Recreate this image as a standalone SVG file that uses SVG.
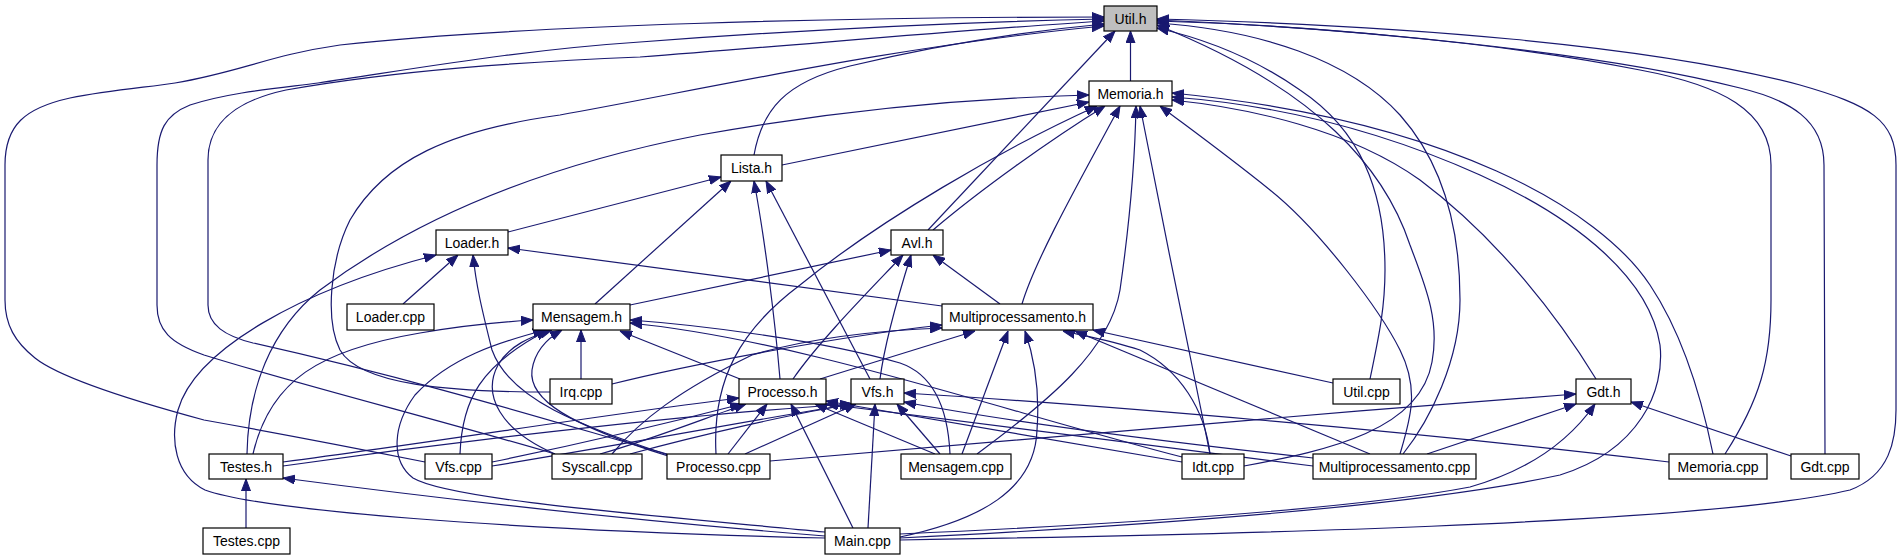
<svg xmlns="http://www.w3.org/2000/svg" width="1904" height="560" viewBox="0 0 1904 560">
<defs>
<style>
.e{fill:none;stroke:#191970;stroke-width:1.2;marker-end:url(#ah)}
.n rect{fill:#fff;stroke:#000;stroke-width:1.2}
.n.root rect{fill:#bfbfbf}
.n text{font-family:"Liberation Sans",Arial,Helvetica,sans-serif;font-size:14px;text-anchor:middle;fill:#000}
</style>
<marker id="ah" viewBox="0 0 12 10" refX="12" refY="5" markerWidth="12" markerHeight="10" markerUnits="userSpaceOnUse" orient="auto">
<path d="M0,0.5 L12,5 L0,9.5 z" fill="#191970" stroke="#191970" stroke-width="1"/>
</marker>
</defs>
<rect width="1904" height="560" fill="#fff"/>
<g id="edges">
<path class="e" d="M1130.5,81 L1130.5,31"/>
<path class="e" d="M928,230 L1115,31"/>
<path class="e" d="M754,155 C762,110 785,82 850,66 C950,42 1040,30 1104,24"/>
<path class="e" d="M550,392 C450,392 360,385 340,350 C325,320 330,260 350,220 C385,160 450,130 560,115 C700,90 900,45 1104,26"/>
<path class="e" d="M425,462 C340,445 260,430 204,420 C130,400 60,378 35,358 C15,342 5,325 5,300 L5,165 C5,125 25,108 70,98 C110,90 150,87 175,83 C240,72 270,55 340,45 C520,25 850,17 1104,17"/>
<path class="e" d="M555,454 C440,420 300,385 204,355 C170,343 157,330 157,305 L157,165 C157,130 165,115 190,105 C230,92 280,88 318,83 C420,68 520,50 640,42 C800,30 960,22 1104,19"/>
<path class="e" d="M667,454 C580,430 440,385 253,343 C225,336 208,325 208,305 L208,160 C208,120 240,100 286,90 C400,70 520,62 640,57 C800,45 960,30 1104,21"/>
<path class="e" d="M1370,379 C1378,340 1385,310 1385,270 C1385,190 1360,130 1300,90 C1260,62 1210,40 1157,28"/>
<path class="e" d="M1244,466 C1330,450 1420,430 1432,362 C1440,320 1425,285 1410,245 C1385,170 1320,90 1157,25"/>
<path class="e" d="M1403,454 C1430,420 1460,360 1460,300 C1460,220 1440,160 1400,115 C1350,60 1260,30 1157,23"/>
<path class="e" d="M1725,454 C1760,400 1771,360 1771,300 L1771,165 C1771,110 1720,85 1640,70 C1500,42 1300,25 1157,21"/>
<path class="e" d="M1825,454 L1824,165 C1824,120 1790,100 1740,88 C1600,52 1350,28 1157,20"/>
<path class="e" d="M900,540 C1200,535 1700,525 1850,490 C1890,475 1896,440 1896,410 L1896,165 C1896,120 1870,105 1800,85 C1650,45 1400,25 1157,19"/>
<path class="e" d="M782,165 L1089,102"/>
<path class="e" d="M247,454 C248,390 270,330 320,290 C400,230 520,170 700,135 C850,108 980,98 1089,95"/>
<path class="e" d="M716,454 C712,380 740,330 800,285 C880,220 1000,150 1097,106"/>
<path class="e" d="M933,230 C980,190 1050,140 1105,106"/>
<path class="e" d="M1022,304 C1035,260 1080,180 1120,106"/>
<path class="e" d="M977,454 C1050,400 1110,350 1120,290 C1130,220 1135,160 1136,106"/>
<path class="e" d="M1210,454 C1195,380 1160,210 1140,106"/>
<path class="e" d="M1400,454 C1410,420 1420,390 1400,350 C1380,310 1320,230 1270,190 C1220,150 1185,125 1160,106"/>
<path class="e" d="M1713,454 C1700,390 1680,330 1650,285 C1600,210 1450,120 1172,93"/>
<path class="e" d="M1596,379 C1560,320 1500,240 1420,180 C1350,130 1250,108 1172,100"/>
<path class="e" d="M900,538 C1100,528 1400,510 1560,475 C1640,450 1665,390 1660,345 C1650,280 1580,220 1480,175 C1380,130 1280,105 1172,97"/>
<path class="e" d="M508,232 L721,177"/>
<path class="e" d="M595,304 L731,181"/>
<path class="e" d="M780,379 C775,320 765,240 754,181"/>
<path class="e" d="M870,379 L766,181"/>
<path class="e" d="M630,305 L891,250"/>
<path class="e" d="M793,379 C820,340 870,290 903,255"/>
<path class="e" d="M880,379 C885,340 900,290 911,255"/>
<path class="e" d="M1000,304 L933,255"/>
<path class="e" d="M403,304 L458,255"/>
<path class="e" d="M825,538 C500,530 260,510 205,490 C175,475 170,440 178,410 C195,350 300,290 436,255"/>
<path class="e" d="M668,455 C580,425 510,400 492,350 C482,310 476,285 473,255"/>
<path class="e" d="M942,306 L508,248"/>
<path class="e" d="M253,454 C270,380 320,350 420,333 C460,326 500,322 533,320"/>
<path class="e" d="M581,379 L581,330"/>
<path class="e" d="M460,454 C462,400 480,365 548,330"/>
<path class="e" d="M555,454 C500,430 482,395 498,365 C510,345 530,337 552,330"/>
<path class="e" d="M668,456 C570,425 528,400 532,370 C535,350 548,338 562,330"/>
<path class="e" d="M825,532 C650,515 450,500 413,478 C390,460 393,425 415,395 C450,357 500,342 545,330"/>
<path class="e" d="M950,454 C948,410 935,375 900,363 C820,340 700,325 630,320"/>
<path class="e" d="M1182,457 C1000,410 800,340 630,323"/>
<path class="e" d="M740,379 L620,331"/>
<path class="e" d="M612,384 C700,362 850,335 942,325"/>
<path class="e" d="M612,454 C640,420 680,390 752,355 C820,335 890,330 942,328"/>
<path class="e" d="M820,379 L975,331"/>
<path class="e" d="M962,454 L1008,331"/>
<path class="e" d="M900,537 C980,520 1035,490 1037,430 C1040,390 1035,360 1025,331"/>
<path class="e" d="M1210,454 C1205,410 1180,370 1140,350 C1110,340 1080,335 1063,331"/>
<path class="e" d="M1370,454 L1075,331"/>
<path class="e" d="M1333,383 L1093,330"/>
<path class="e" d="M283,462 C450,440 600,415 739,398"/>
<path class="e" d="M492,462 C600,440 680,420 742,404"/>
<path class="e" d="M600,454 C650,440 700,420 746,404"/>
<path class="e" d="M728,454 L767,404"/>
<path class="e" d="M853,528 L791,404"/>
<path class="e" d="M935,454 L815,404"/>
<path class="e" d="M1182,462 L826,401"/>
<path class="e" d="M1313,466 C1100,440 950,420 826,404"/>
<path class="e" d="M283,466 C500,435 720,412 852,404"/>
<path class="e" d="M492,466 C650,440 780,415 853,404"/>
<path class="e" d="M630,454 C700,435 800,412 854,404"/>
<path class="e" d="M745,454 L856,404"/>
<path class="e" d="M868,528 L875,404"/>
<path class="e" d="M940,454 L897,404"/>
<path class="e" d="M1313,458 C1150,440 1000,420 904,402"/>
<path class="e" d="M1669,462 C1400,430 1100,405 904,393"/>
<path class="e" d="M770,461 C1000,440 1300,415 1576,394"/>
<path class="e" d="M1427,454 L1576,404"/>
<path class="e" d="M900,534 C1100,525 1350,510 1470,487 C1530,470 1570,440 1595,404"/>
<path class="e" d="M1791,456 L1631,402"/>
<path class="e" d="M246,528 L246,479"/>
<path class="e" d="M825,536 C650,522 450,500 283,478"/>
</g>
<g id="n_util_h" class="n root"><rect x="1104" y="6" width="53" height="25"/><text x="1130.5" y="23.5">Util.h</text></g>
<g id="n_memoria_h" class="n"><rect x="1089" y="81" width="83" height="25"/><text x="1130.5" y="98.5">Memoria.h</text></g>
<g id="n_lista_h" class="n"><rect x="721" y="155" width="61" height="26"/><text x="751.5" y="173">Lista.h</text></g>
<g id="n_avl_h" class="n"><rect x="891" y="230" width="52" height="25"/><text x="917" y="247.5">Avl.h</text></g>
<g id="n_loader_h" class="n"><rect x="436" y="230" width="72" height="25"/><text x="472" y="247.5">Loader.h</text></g>
<g id="n_loader_cpp" class="n"><rect x="347" y="304" width="87" height="26"/><text x="390.5" y="322">Loader.cpp</text></g>
<g id="n_mensagem_h" class="n"><rect x="533" y="304" width="97" height="26"/><text x="581.5" y="322">Mensagem.h</text></g>
<g id="n_multiprocessamento_h" class="n"><rect x="942" y="304" width="151" height="26"/><text x="1017.5" y="322">Multiprocessamento.h</text></g>
<g id="n_irq_cpp" class="n"><rect x="550" y="379" width="62" height="25"/><text x="581" y="396.5">Irq.cpp</text></g>
<g id="n_processo_h" class="n"><rect x="739" y="379" width="87" height="25"/><text x="782.5" y="396.5">Processo.h</text></g>
<g id="n_vfs_h" class="n"><rect x="851" y="379" width="53" height="25"/><text x="877.5" y="396.5">Vfs.h</text></g>
<g id="n_util_cpp" class="n"><rect x="1333" y="379" width="67" height="25"/><text x="1366.5" y="396.5">Util.cpp</text></g>
<g id="n_gdt_h" class="n"><rect x="1576" y="379" width="55" height="25"/><text x="1603.5" y="396.5">Gdt.h</text></g>
<g id="n_testes_h" class="n"><rect x="209" y="454" width="74" height="25"/><text x="246" y="471.5">Testes.h</text></g>
<g id="n_vfs_cpp" class="n"><rect x="425" y="454" width="67" height="25"/><text x="458.5" y="471.5">Vfs.cpp</text></g>
<g id="n_syscall_cpp" class="n"><rect x="552" y="454" width="90" height="25"/><text x="597" y="471.5">Syscall.cpp</text></g>
<g id="n_processo_cpp" class="n"><rect x="667" y="454" width="103" height="25"/><text x="718.5" y="471.5">Processo.cpp</text></g>
<g id="n_mensagem_cpp" class="n"><rect x="901" y="454" width="110" height="25"/><text x="956" y="471.5">Mensagem.cpp</text></g>
<g id="n_idt_cpp" class="n"><rect x="1182" y="454" width="62" height="25"/><text x="1213" y="471.5">Idt.cpp</text></g>
<g id="n_multiprocessamento_cpp" class="n"><rect x="1313" y="454" width="163" height="25"/><text x="1394.5" y="471.5">Multiprocessamento.cpp</text></g>
<g id="n_memoria_cpp" class="n"><rect x="1669" y="454" width="98" height="25"/><text x="1718" y="471.5">Memoria.cpp</text></g>
<g id="n_gdt_cpp" class="n"><rect x="1791" y="454" width="68" height="25"/><text x="1825" y="471.5">Gdt.cpp</text></g>
<g id="n_testes_cpp" class="n"><rect x="203" y="528" width="87" height="26"/><text x="246.5" y="546">Testes.cpp</text></g>
<g id="n_main_cpp" class="n"><rect x="825" y="528" width="75" height="26"/><text x="862.5" y="546">Main.cpp</text></g>
</svg>
